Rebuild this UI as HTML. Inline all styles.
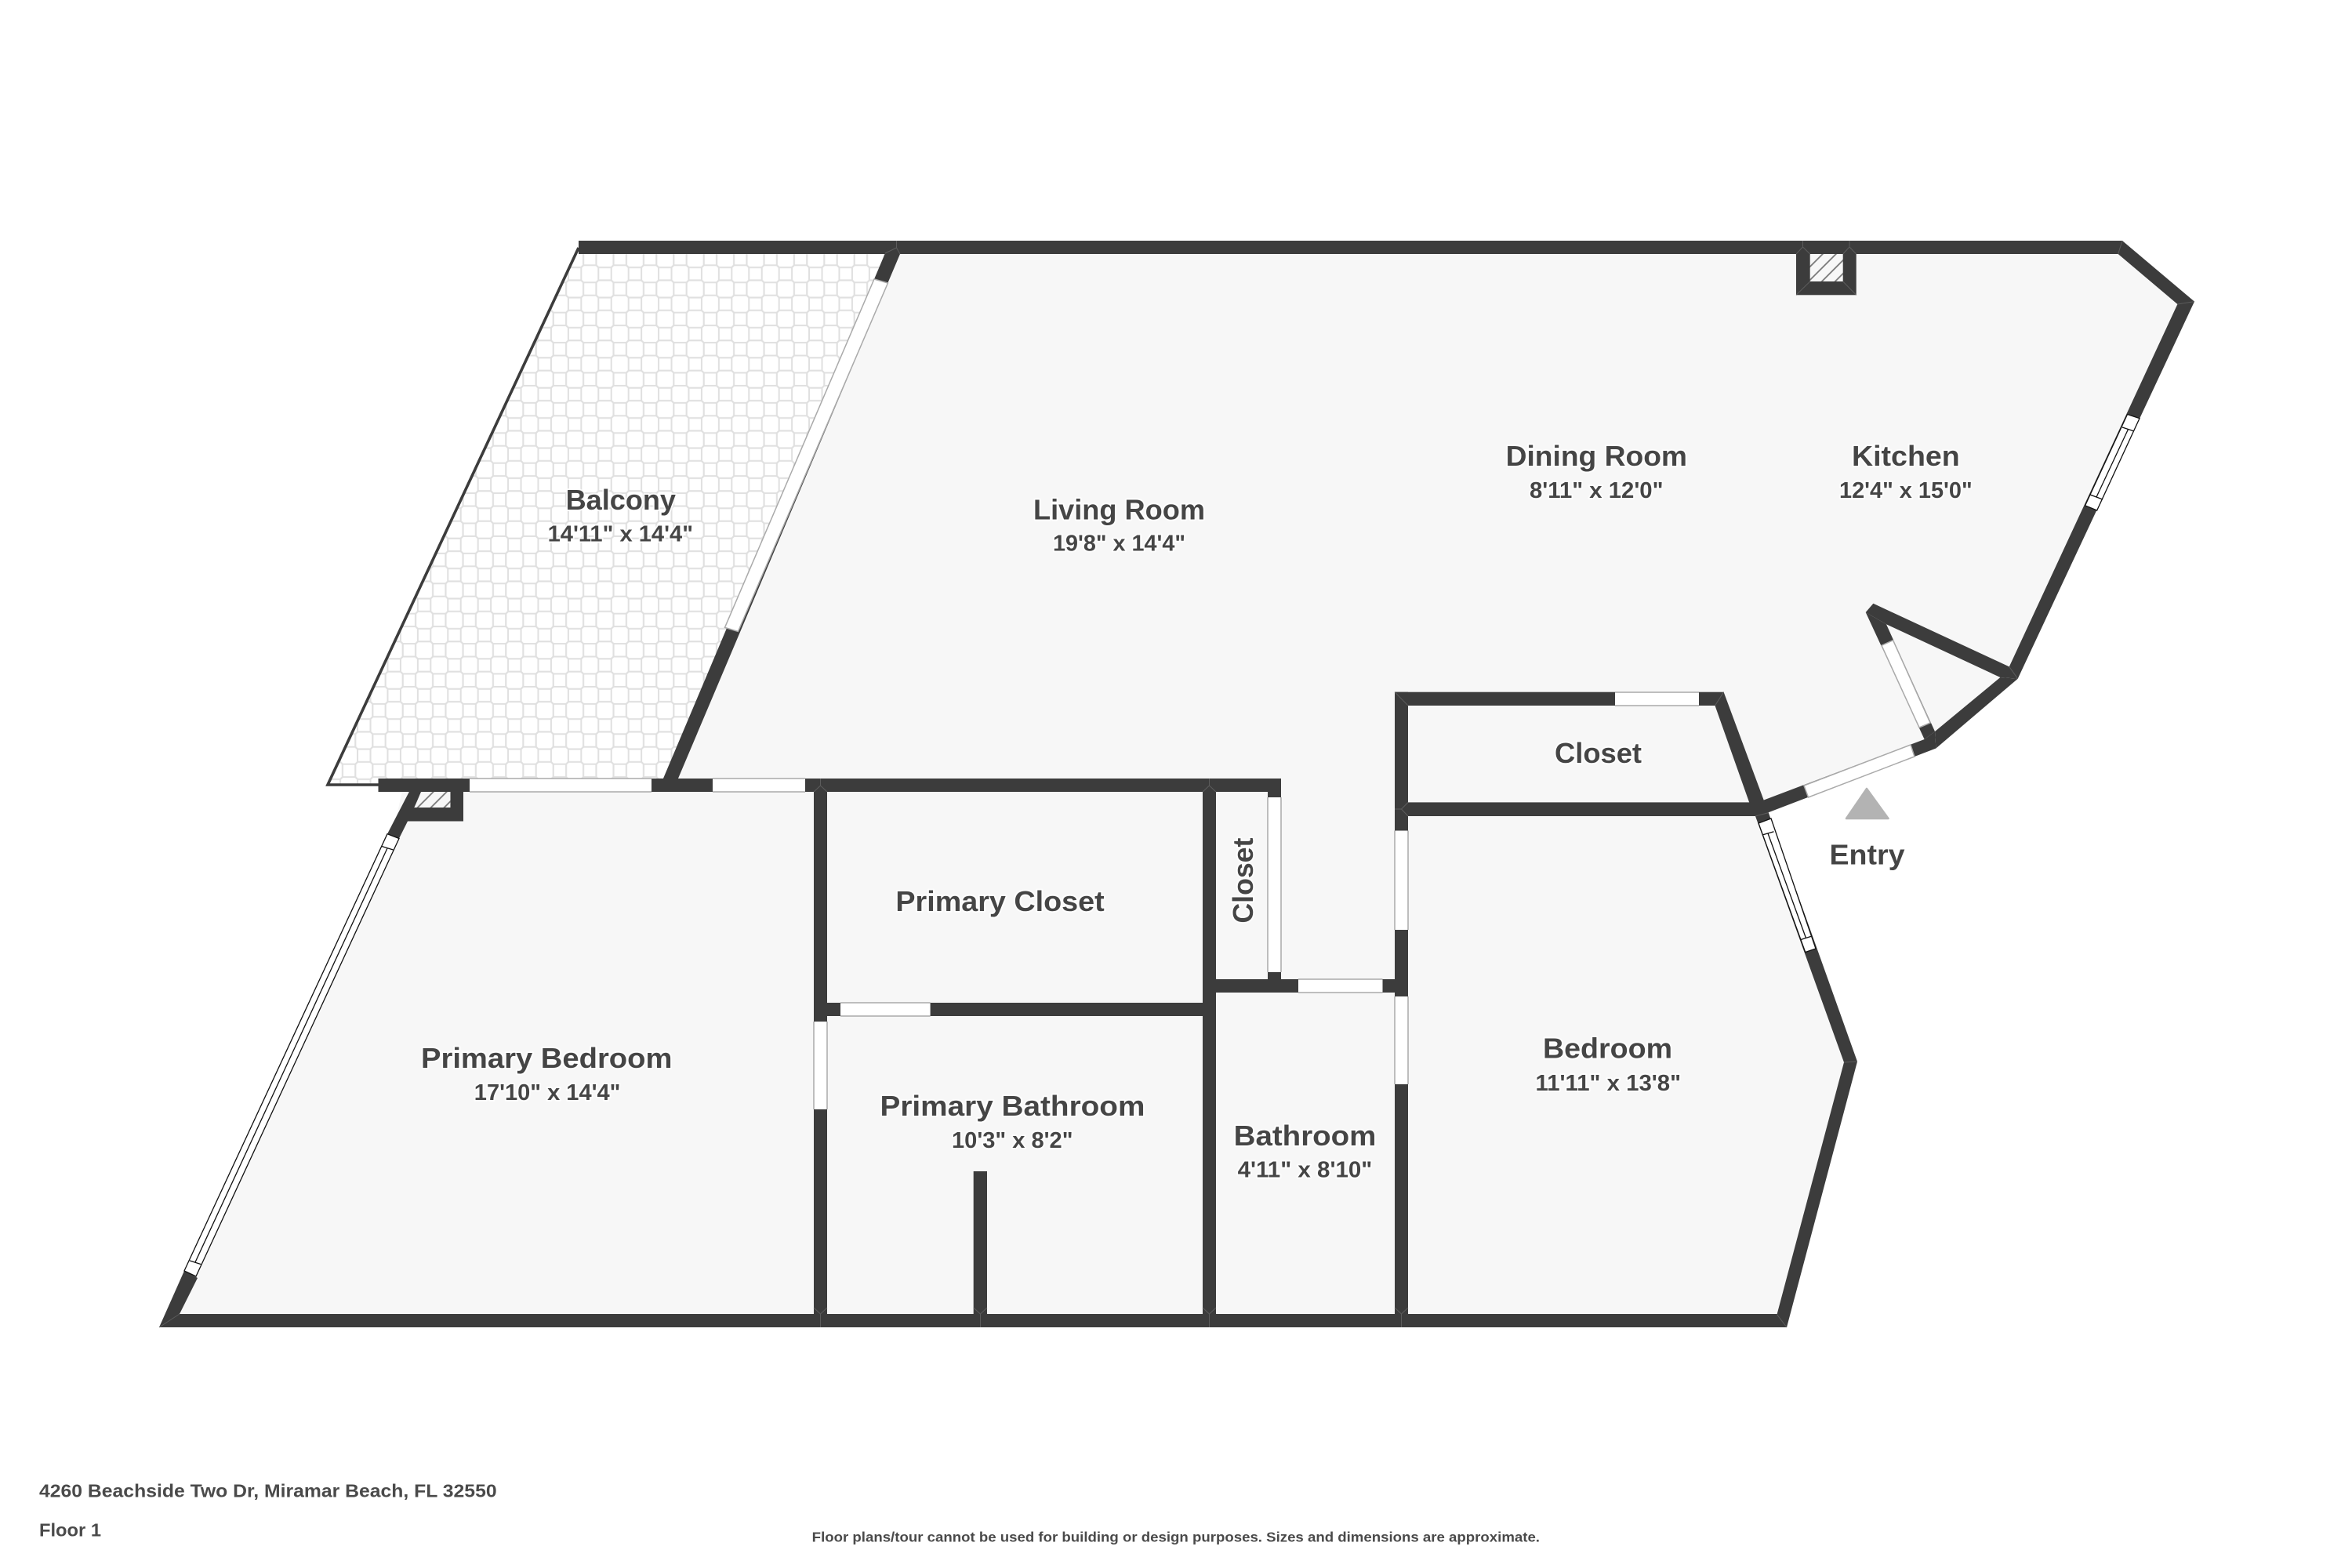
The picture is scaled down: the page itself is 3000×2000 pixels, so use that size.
<!DOCTYPE html>
<html><head><meta charset="utf-8"><title>Floor plan</title>
<style>
html,body{margin:0;padding:0;background:#fff}
svg{display:block}
text{font-family:"Liberation Sans",sans-serif;font-weight:700;fill:#454545}
.n{font-size:36px;stroke:#fff;stroke-opacity:.75;stroke-width:4px;paint-order:stroke;stroke-linejoin:round}
.d{font-size:29px;stroke:#fff;stroke-opacity:.75;stroke-width:4px;paint-order:stroke;stroke-linejoin:round}
.f{font-size:23px;fill:#4a4a4a}
.s{font-size:17.5px;fill:#4a4a4a}
.w{fill:#3c3c3c}
.o{fill:#fff;stroke:#aaa;stroke-width:1.5}
.g{fill:#fff;stroke:#111;stroke-width:1.3}
.l{stroke:#111;stroke-width:1.3;fill:none}
.m{stroke:#5c5c5c;stroke-width:1;fill:none}
</style></head><body>
<svg xmlns="http://www.w3.org/2000/svg" width="3000" height="2000" viewBox="0 0 3000 2000">
<defs>
<pattern id="tile" patternUnits="userSpaceOnUse" width="38.4" height="38.4" x="752.3" y="349.3">
<rect width="38.4" height="38.4" fill="#fff"/>
<g fill="none" stroke="#e0e0e0" stroke-width="1.9">
<rect x="11" y="-8.2" width="16.4" height="16.4"/>
<rect x="11" y="30.2" width="16.4" height="16.4"/>
<rect x="-8.2" y="11" width="16.4" height="16.4"/>
<rect x="30.2" y="11" width="16.4" height="16.4"/>
<path d="M-8-11H8L11-8V8L8 11H-8L-11 8V-8Z"/>
<path d="M-8-11H8L11-8V8L8 11H-8L-11 8V-8Z" transform="translate(38.4,0)"/>
<path d="M-8-11H8L11-8V8L8 11H-8L-11 8V-8Z" transform="translate(0,38.4)"/>
<path d="M-8-11H8L11-8V8L8 11H-8L-11 8V-8Z" transform="translate(38.4,38.4)"/>
<path d="M-8-11H8L11-8V8L8 11H-8L-11 8V-8Z" transform="translate(19.2,19.2)"/>
</g>
</pattern>
<pattern id="hatch" patternUnits="userSpaceOnUse" width="12" height="12" patternTransform="rotate(45)">
<rect width="12" height="12" fill="#f7f7f7"/>
<line x1="1" y1="0" x2="1" y2="12" stroke="#777" stroke-width="1.8"/>
</pattern>
</defs>

<!-- balcony -->
<polygon points="736,316 1140,316 852,1001 417,1001" fill="url(#tile)"/>
<polyline points="738,316 418,1001 484,1001" fill="none" stroke="#3c3c3c" stroke-width="3.6"/>

<!-- floor -->
<polygon fill="#f7f7f7" points="1138,316 2707,316 2790,385 2568,858 2462,945 2250,1030 2248,1040 2310,1213 2360,1354 2272,1685 210,1685 500,1065 515,1001 853,1001"/>

<!-- walls -->
<g class="w">
<rect x="738" y="307" width="1969" height="17"/>
<polygon points="2707,307 2799,384.6 2777.4,388 2701.7,324"/>
<polygon points="2799,384.6 2573.7,865.7 2562.8,850.4 2777.4,388"/>
<rect x="2291" y="307" width="76.7" height="69.3"/>
<polygon points="2389.4,769.8 2562.8,850.4 2573.7,865.7 2551.4,864 2406,796.3 2379.7,781"/>
<polygon points="2573.7,865.7 2469.4,954.5 2468,933 2551.4,864"/>
<polygon points="2379.7,781 2406,796.3 2468,933 2454.6,943"/>
<polygon points="2454.6,943 2468,933 2469.4,954.5 2254.7,1036.6 2248.4,1021"/>
<rect x="1779" y="882.7" width="419.6" height="17.3"/>
<polygon points="2198.6,882.7 2255.8,1037 2239,1041 2231,1023 2187.5,900"/>
<rect x="1787" y="1023.4" width="453" height="17.6"/>
<rect x="1779" y="882.7" width="17" height="810"/>
<polygon points="2255.8,1036.6 2369,1354 2352,1355 2239,1041"/>
<polygon points="2369,1354 2279,1693 2266.5,1676.6 2352,1355"/>
<polygon points="203,1693 2279,1693 2266.5,1676 229,1676"/>
<polygon points="252,1630 229,1676 203,1693 235,1621"/>
<polygon points="522,1009.7 538,1009.7 520,1047.5 509,1069.5 494,1063.7"/>
<polygon points="574.4,1009 591,1009 591,1047.5 520,1047.5 513,1040 528.5,1030 574.4,1030"/>
<rect x="482.5" y="993" width="1151.5" height="17"/>
<rect x="1038" y="1010" width="17" height="666"/>
<rect x="1534" y="1010" width="17" height="666"/>
<rect x="1055" y="1279" width="479" height="17"/>
<rect x="1551" y="1249" width="228" height="17"/>
<rect x="1617" y="993" width="17" height="256"/>
<rect x="1241.7" y="1494" width="17.3" height="182"/>
<polygon points="1129,323 1131,316 1146,316 1148,324 862,1000 843,1000"/>
</g>

<!-- hatch boxes -->
<rect x="2308.7" y="324" width="42" height="35" fill="url(#hatch)"/>
<polygon points="537,1010 574.4,1010 574.4,1030 528.5,1030" fill="url(#hatch)"/>

<!-- door openings -->
<rect class="o" x="599" y="993" width="232" height="17" stroke-dasharray="232 17"/>
<rect class="o" x="909" y="993" width="118" height="17" stroke-dasharray="118 17"/>
<rect class="o" x="1072" y="1279" width="114.6" height="17" stroke-dasharray="114.6 17"/>
<rect class="o" x="1656" y="1249" width="107.5" height="17" stroke-dasharray="107.5 17"/>
<rect class="o" x="2060" y="883" width="107" height="17" stroke-dasharray="107 17"/>
<rect class="o" x="1038" y="1303" width="17" height="112" stroke-dasharray="0 17 112 17 112"/>
<rect class="o" x="1617" y="1017" width="17" height="223" stroke-dasharray="0 17 223 17 223"/>
<rect class="o" x="1779" y="1059.5" width="17" height="126.5" stroke-dasharray="0 17 126.5 17 126.5"/>
<rect class="o" x="1779" y="1271" width="17" height="112" stroke-dasharray="0 17 112 17 112"/>
<polygon class="o" points="1115,356 1132.5,361 941.4,805.5 924.5,800.4"/>
<polygon class="o" points="2400,823.3 2414.6,816.7 2462,922 2448,928"/>
<polygon class="o" points="2301,1002 2306.5,1017 2442,965 2437,950"/>

<!-- glazed windows -->
<polygon class="g" points="494,1063.7 509,1069.5 250,1628 235,1621"/>
<line class="l" x1="487" y1="1079.5" x2="501.5" y2="1084"/>
<line class="l" x1="242" y1="1608" x2="256.3" y2="1612.6"/>
<line class="l" x1="494" y1="1082" x2="249" y2="1610"/>

<polygon class="g" points="2713.5,528.5 2729,533.6 2674.7,651 2659.6,644.8"/>
<line class="l" x1="2707" y1="545" x2="2722" y2="550"/>
<line class="l" x1="2666" y1="631" x2="2682" y2="637"/>
<line class="l" x1="2714.5" y1="547.5" x2="2674" y2="634"/>

<polygon class="g" points="2243,1050 2259,1044 2316,1210 2302.7,1214.5"/>
<line class="l" x1="2247.8" y1="1065" x2="2262.5" y2="1060.7"/>
<line class="l" x1="2297" y1="1198.5" x2="2310" y2="1194.4"/>
<line class="l" x1="2255" y1="1063" x2="2303.5" y2="1196.5"/>

<!-- joint lines -->
<g class="m">
<path d="M2707 307L2701.7 324M2799 384.6L2777.4 388M2573.7 865.7L2562.8 850.4"/>
<path d="M2299.5 307V315L2291 324M2299.5 315L2308.7 324M2359 307V315L2367.7 324M2359 315L2350.7 324M2291 376.3L2308.7 359M2367.7 376.3L2350.7 359"/>
<path d="M1143.5 307V316L1129 323M1143.5 316L1148 324"/>
<path d="M1046.5 993V1002L1038 1010M1046.5 1002L1055 1010M1542.5 993V1002L1534 1010M1542.5 1002L1551 1010"/>
<path d="M1046.5 1676L1038 1668M1046.5 1676L1055 1668M1046.5 1676V1693M1250.5 1676L1241.7 1668M1250.5 1676L1259 1668M1250.5 1676V1693M1542.5 1676L1534 1668M1542.5 1676L1551 1668M1542.5 1676V1693M1787.5 1676L1779 1668M1787.5 1676L1796 1668M1787.5 1676V1693"/>
<path d="M203 1693L229 1676M2279 1693L2266.5 1676.6M2369 1354L2352 1355"/>
<path d="M1779 882.7L1796 900M2198.6 882.7L2187.5 900M2239 1041L2255.8 1036.6"/>
<path d="M1787.5 1032L1796 1023.4M1787.5 1032L1796 1041M1787.5 1032H1779"/>
</g>

<!-- entry marker -->
<polygon points="2381,1006 2408.5,1044 2355,1044" fill="#b3b3b3" stroke="#b3b3b3" stroke-width="2.5" stroke-linejoin="round"/>

<!-- labels -->
<text class="n" x="721.6" y="650" textLength="140.4" lengthAdjust="spacingAndGlyphs">Balcony</text>
<text class="d" x="698.6" y="690.7" textLength="185.4" lengthAdjust="spacingAndGlyphs">14'11" x 14'4"</text>
<text class="n" x="1318" y="662.7" textLength="219" lengthAdjust="spacingAndGlyphs">Living Room</text>
<text class="d" x="1343" y="702.7" textLength="169" lengthAdjust="spacingAndGlyphs">19'8" x 14'4"</text>
<text class="n" x="1920.6" y="594" textLength="231.4" lengthAdjust="spacingAndGlyphs">Dining Room</text>
<text class="d" x="1951" y="635" textLength="170.5" lengthAdjust="spacingAndGlyphs">8'11" x 12'0"</text>
<text class="n" x="2362" y="594" textLength="137.7" lengthAdjust="spacingAndGlyphs">Kitchen</text>
<text class="d" x="2346" y="635" textLength="169.7" lengthAdjust="spacingAndGlyphs">12'4" x 15'0"</text>
<text class="n" x="1983" y="973" textLength="111" lengthAdjust="spacingAndGlyphs">Closet</text>
<text class="n" x="2333.5" y="1102.3" textLength="96" lengthAdjust="spacingAndGlyphs">Entry</text>
<text class="n" x="1142.4" y="1161.8" textLength="266.3" lengthAdjust="spacingAndGlyphs">Primary Closet</text>
<text class="n" transform="translate(1598,1177.6) rotate(-90)" x="0" y="0" textLength="109" lengthAdjust="spacingAndGlyphs">Closet</text>
<text class="n" x="1968" y="1349.5" textLength="165" lengthAdjust="spacingAndGlyphs">Bedroom</text>
<text class="d" x="1958.5" y="1391" textLength="185.5" lengthAdjust="spacingAndGlyphs">11'11" x 13'8"</text>
<text class="n" x="537" y="1361.8" textLength="320.4" lengthAdjust="spacingAndGlyphs">Primary Bedroom</text>
<text class="d" x="604.8" y="1403" textLength="186.6" lengthAdjust="spacingAndGlyphs">17'10" x 14'4"</text>
<text class="n" x="1122.5" y="1423" textLength="337.9" lengthAdjust="spacingAndGlyphs">Primary Bathroom</text>
<text class="d" x="1214" y="1464" textLength="154.5" lengthAdjust="spacingAndGlyphs">10'3" x 8'2"</text>
<text class="n" x="1573.7" y="1461" textLength="181.7" lengthAdjust="spacingAndGlyphs">Bathroom</text>
<text class="d" x="1578.6" y="1501.5" textLength="171.7" lengthAdjust="spacingAndGlyphs">4'11" x 8'10"</text>

<text class="f" x="50" y="1909.3" textLength="583.6" lengthAdjust="spacingAndGlyphs">4260 Beachside Two Dr, Miramar Beach, FL 32550</text>
<text class="f" x="50" y="1959.3" textLength="79" lengthAdjust="spacingAndGlyphs">Floor 1</text>
<text class="s" x="1035.7" y="1966.7" textLength="928.3" lengthAdjust="spacingAndGlyphs">Floor plans/tour cannot be used for building or design purposes. Sizes and dimensions are approximate.</text>
</svg>
</body></html>
